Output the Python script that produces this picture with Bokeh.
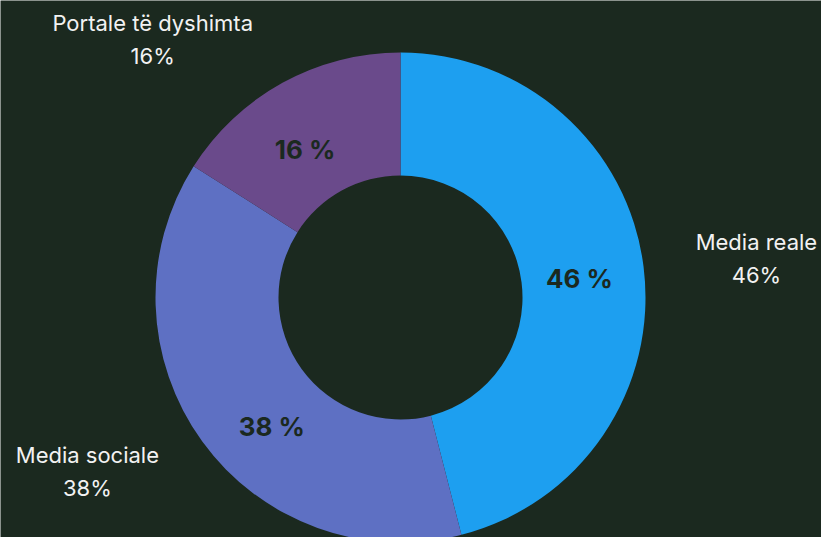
import math
from bokeh.plotting import figure
from bokeh.models import Range1d, ColumnDataSource
from bokeh.core.properties import value
from bokeh.embed import file_html
from bokeh.resources import INLINE

# ---- data ----
categories = ["Media reale", "Media sociale", "Portale të dyshimta"]
shares = [46, 38, 16]
colors = ["#1d9ff0", "#5e70c3", "#6a4a8b"]

# ---- layout ----
W, H = 821, 537
BG = "#1b291f"
CX, CY = 400, 240          # donut centre (data units = screen px)
R_OUT, R_IN = 245, 122
FONT = "Inter"
# small angular nudges (deg) used to keep labels clear of edges
outer_nudge = [1, 7, -15]
inner_nudge = [1, -9, -4]
inner_r = [180, 182, 176]
outer_r = 358

total = sum(shares)
starts, ends, mids = [], [], []
cum = 0.0
for s in shares:
    a0 = cum / total
    cum += s
    a1 = cum / total
    starts.append(math.pi / 2 - 2 * math.pi * a0)
    ends.append(math.pi / 2 - 2 * math.pi * a1)
    mids.append(360 * (a0 + a1) / 2)

p = figure(width=W, height=H, output_backend="svg", toolbar_location=None,
           x_range=Range1d(0, W), y_range=Range1d(0, H), min_border=0,
           background_fill_color=BG, border_fill_color=BG)
p.axis.visible = False
p.grid.visible = False
p.outline_line_color = None

src = ColumnDataSource(dict(start=starts, end=ends, color=colors))
p.annular_wedge(x=CX, y=CY, inner_radius=R_IN, outer_radius=R_OUT,
                start_angle="start", end_angle="end", direction="clock",
                fill_color="color", line_color=None, source=src)

# inner bold labels
ix, iy, itxt = [], [], []
for i, s in enumerate(shares):
    a = math.radians(mids[i] + inner_nudge[i])
    ix.append(CX + inner_r[i] * math.sin(a))
    iy.append(CY + inner_r[i] * math.cos(a))
    itxt.append(f"{s} %")
p.text(x=ix, y=iy, text=itxt, text_align="center", text_baseline="middle",
       text_font=value(FONT), text_font_style="bold", text_font_size="26px",
       text_color=BG)

# outer labels (two lines)
ox, oy1, oy2, t1, t2 = [], [], [], [], []
for i, s in enumerate(shares):
    a = math.radians(mids[i] + outer_nudge[i])
    x = CX + outer_r * math.sin(a)
    y = CY + outer_r * math.cos(a)
    ox.append(x)
    oy1.append(y + 16.5)
    oy2.append(y - 16.5)
    t1.append(categories[i])
    t2.append(f"{s}%")
p.text(x=ox, y=oy1, text=t1, text_align="center", text_baseline="middle",
       text_font=value(FONT), text_font_size="22px", text_color="#f2f2f2")
p.text(x=ox, y=oy2, text=t2, text_align="center", text_baseline="middle",
       text_font=value(FONT), text_font_size="22px", text_color="#f2f2f2")

html = file_html(p, INLINE)
html = html.replace("<body>", '<body style="background-color:%s">' % BG, 1)
open("out.html", "w").write(html)
